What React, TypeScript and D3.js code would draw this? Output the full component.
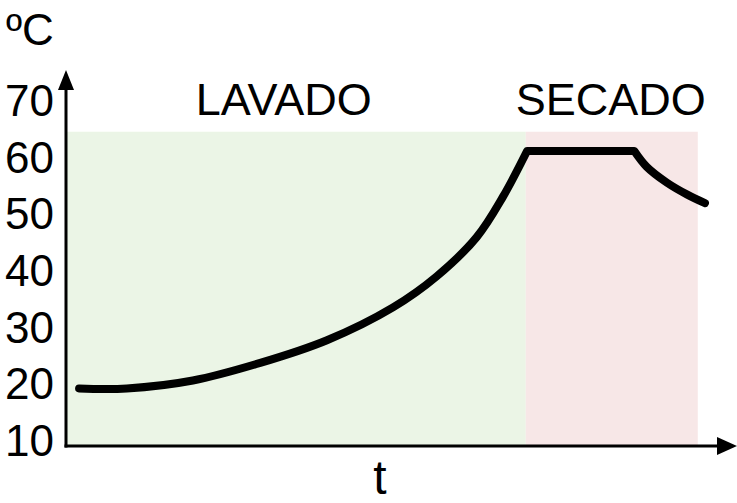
import React from 'react';
import * as d3 from 'd3';

// temperature ticks (ºC)
const yTicks = [10, 20, 30, 40, 50, 60, 70];

// phases of the cycle (t in arbitrary units 0..100)
const phaseNames = ['LAVADO', 'SECADO'];
const phaseStart = [0, 70.3];
const phaseEnd = [70.3, 96.6];
const phaseTop = 64.4;
const phaseColors = ['#ebf5e6', '#f7e7e7'];
const labelT = [33.3, 83.3];

// temperature curve, in three pieces
const riseT = [2, 9.3, 19.4, 29.7, 39.9, 50, 56.7, 62.8, 66.8, 70.5];
const riseTemp = [19.1, 19.1, 20.5, 23.6, 27.6, 33.4, 38.9, 45.8, 52.9, 61];
const plateauT = [70.5, 86.9];
const plateauTemp = [61, 61];
const fallT = [86.9, 88.8, 91.9, 95, 97.7];
const fallTemp = [61, 58.2, 55.4, 53.3, 51.8];

const W = 737;
const H = 503;
const FONT = '"Liberation Sans", Arial, sans-serif';

const App: React.FC = () => {
  const x = d3.scaleLinear().domain([0, 100]).range([66, 720]);
  const y = d3.scaleLinear().domain([10, 70]).range([440, 100]);

  const axisY = y(8.95);
  const axisX = x(0);

  const smooth = d3.line<[number, number]>()
    .x(d => x(d[0]))
    .y(d => y(d[1]))
    .curve(d3.curveCatmullRom.alpha(0.5));
  const straight = d3.line<[number, number]>()
    .x(d => x(d[0]))
    .y(d => y(d[1]));

  const zip = (a: number[], b: number[]) => a.map((v, i) => [v, b[i]] as [number, number]);
  const rise = smooth(zip(riseT, riseTemp)) || '';
  const plateau = straight(zip(plateauT, plateauTemp)) || '';
  const fall = smooth(zip(fallT, fallTemp)) || '';
  // join the pieces into one path so corners get a proper join
  const curvePath = rise + plateau.replace(/^M/, 'L') + fall.replace(/^M/, 'L');

  return (
    <svg width={W} height={H} style={{ position: 'absolute', left: 0, top: 0, background: '#fff' }}>
      {/* phase backgrounds */}
      {phaseNames.map((name, i) => (
        <rect
          key={name}
          x={x(phaseStart[i])}
          y={y(phaseTop)}
          width={x(phaseEnd[i]) - x(phaseStart[i])}
          height={axisY - y(phaseTop)}
          fill={phaseColors[i]}
        />
      ))}
      {phaseNames.map((name, i) => (
        <text
          key={'l' + name}
          x={x(labelT[i])}
          y={115}
          textAnchor="middle"
          fontFamily={FONT}
          fontSize={45}
          fill="#000"
        >
          {name}
        </text>
      ))}

      {/* curve */}
      <path
        d={curvePath}
        fill="none"
        stroke="#000"
        strokeWidth={8}
        strokeLinecap="round"
        strokeLinejoin="round"
      />

      {/* axes */}
      <line x1={axisX} y1={88} x2={axisX} y2={axisY + 1.5} stroke="#000" strokeWidth={3} />
      <path d={`M${axisX},70 L${axisX - 8},90 L${axisX + 8},90 Z`} fill="#000" />
      <line x1={axisX - 1.5} y1={axisY} x2={719} y2={axisY} stroke="#000" strokeWidth={3} />
      <path d={`M737,${axisY} L717,${axisY - 9} L717,${axisY + 9} Z`} fill="#000" />

      {yTicks.map(v => (
        <text
          key={v}
          x={54}
          y={y(v)}
          dy="0.36em"
          textAnchor="end"
          fontFamily={FONT}
          fontSize={44}
          fill="#000"
        >
          {v}
        </text>
      ))}

      <text x={6} y={45} fontFamily={FONT} fontSize={44} fill="#000">ºC</text>
      <text x={380} y={494} textAnchor="middle" fontFamily={FONT} fontSize={48} fill="#000">t</text>
    </svg>
  );
};

export default App;
